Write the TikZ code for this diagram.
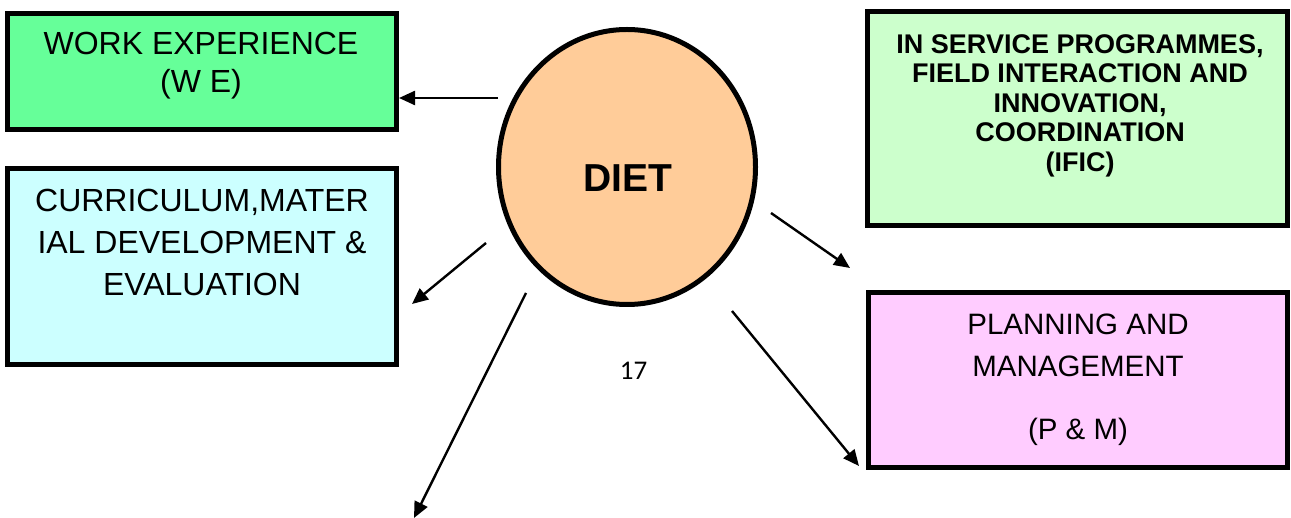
\documentclass[tikz,border=0pt]{standalone}
\usepackage{fontspec}
\setmainfont{Liberation Sans}
\newfontfamily\pagenumfont{Carlito}
\usetikzlibrary{shapes.geometric,arrows.meta}
\definecolor{wegreen}{HTML}{66FF99}
\definecolor{cmdecyan}{HTML}{CCFFFF}
\definecolor{dietorange}{HTML}{FFCC99}
\definecolor{ificgreen}{HTML}{CCFFCC}
\definecolor{pmpink}{HTML}{FFCCFF}
\begin{document}
\begin{tikzpicture}[x=1pt,y=-1pt,
  box/.style={draw,line width=5pt,inner sep=0pt},
  boxtext/.style={anchor=north,align=center,inner sep=0pt},
  arr/.style={line width=2.4pt,-{Triangle[length=16pt,width=14pt]}}]
\useasboundingbox (0,0) rectangle (1291,518);
\node[box,fill=wegreen,minimum width=389pt,minimum height=116pt] (we) at (202,71.5) {};
\node[box,fill=cmdecyan,minimum width=389pt,minimum height=196pt] (cmde) at (202,266.5) {};
\node[box,fill=ificgreen,minimum width=420pt,minimum height=214pt] (ific) at (1077.5,118.5) {};
\node[box,fill=pmpink,minimum width=419pt,minimum height=175pt] (pm) at (1078,380) {};
\node[box,ellipse,fill=dietorange,minimum width=257pt,minimum height=275pt] (diet) at (627,167) {};
\node[boxtext,font=\fontsize{32}{38}\selectfont] (wetext) at (201,32) {WORK EXPERIENCE\\(W E)};
\node[boxtext,font=\fontsize{32}{42}\selectfont] (cmdetext) at (202,189) {CURRICULUM,MATER\\IAL DEVELOPMENT \&\\EVALUATION};
\node[boxtext,font=\fontsize{27}{29.5}\selectfont\bfseries] (ifictext) at (1080,34) {IN SERVICE PROGRAMMES,\\FIELD INTERACTION AND\\INNOVATION,\\COORDINATION\\(IFIC)};
\node[boxtext,font=\fontsize{29.5}{42}\selectfont] (pmtext) at (1078,314) {PLANNING AND\\MANAGEMENT\\[21pt](P \& M)};
\node[font=\fontsize{39}{45}\selectfont\bfseries] (dietlabel) at (627.5,178) {DIET};
\node[font=\pagenumfont\fontsize{27}{32}\selectfont] (pagenum) at (633.5,371) {17};
\coordinate (we-from) at (498,98);
\coordinate (cmde-from) at (486,243);
\coordinate (cmde-to) at (412,304);
\coordinate (down-from) at (526,293);
\coordinate (down-to) at (414,518);
\coordinate (mid-from) at (771,213);
\coordinate (mid-to) at (850,268);
\coordinate (pm-from) at (732,311);
\coordinate (pm-to) at (859,466);
\draw[arr] (we-from) -- (we-from -| we.east);
\draw[arr] (cmde-from) -- (cmde-to);
\draw[arr] (down-from) -- (down-to);
\draw[arr] (mid-from) -- (mid-to);
\draw[arr] (pm-from) -- (pm-to);
\end{tikzpicture}
\end{document}
